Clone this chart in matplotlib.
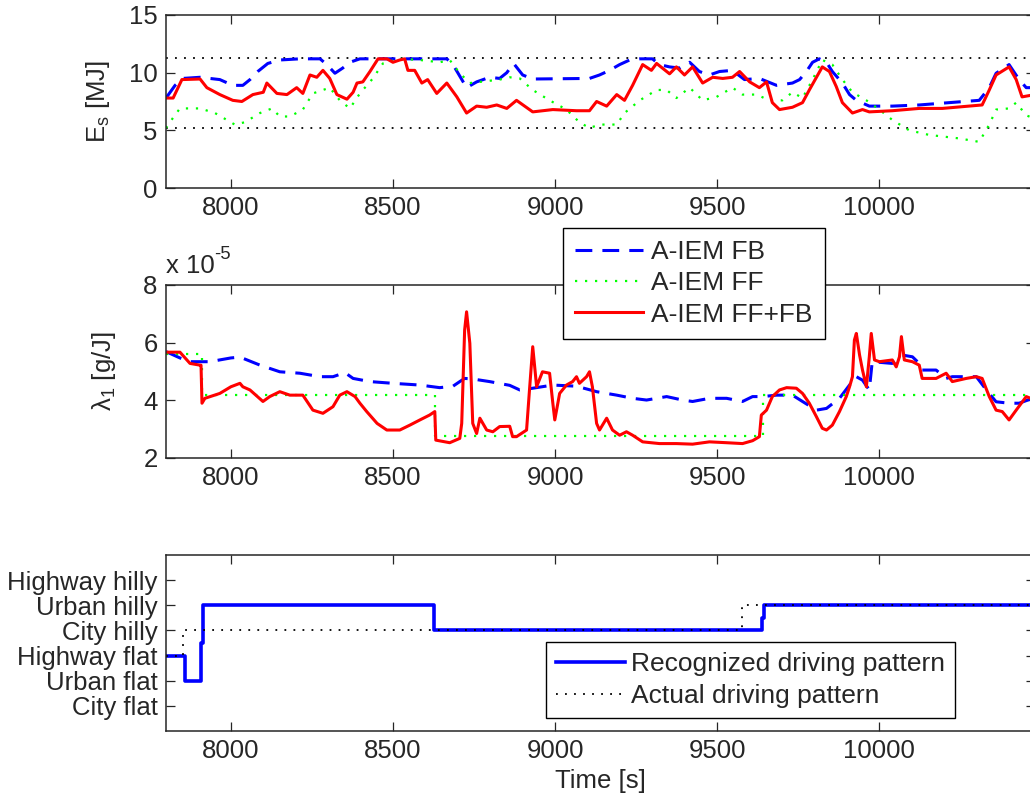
import numpy as np
import matplotlib
matplotlib.use("Agg")
import matplotlib.pyplot as plt

plt.rcParams["font.family"] = ["Liberation Sans", "DejaVu Sans"]
plt.rcParams["mathtext.fontset"] = "custom"
plt.rcParams["mathtext.rm"] = "Liberation Sans"
plt.rcParams["mathtext.it"] = "Liberation Sans"
plt.rcParams["mathtext.default"] = "regular"

# ---------------- data ----------------
# Battery energy E_s [MJ], feedback strategy
t_es_fb = [7800, 7828, 7852, 7905, 7935, 7966, 8006, 8037, 8059, 8083, 8114, 8151, 8213, 8275,
           8296, 8321, 8345, 8367, 8398, 8666, 8685, 8727, 8758, 8798, 8829, 8851, 8872, 8900,
           8931, 9106, 9137, 9168, 9199, 9230, 9261, 9300, 9322, 9353, 9384, 9415, 9445, 9476,
           9507, 9547, 9584, 9630, 9683, 9732, 9754, 9775, 9794, 9815, 9837, 9855, 9886, 9908,
           9929, 9969, 10040, 10123, 10215, 10308, 10339, 10360, 10400, 10431, 10453, 10480]
es_fb = [7.8, 8.9, 9.5, 9.6, 9.5, 9.4, 8.9, 8.9, 9.4, 10.1, 10.8, 11.1, 11.2, 11.2,
         10.7, 9.95, 10.4, 10.9, 11.2, 11.2, 10.7, 8.7, 9.2, 9.6, 9.5, 10.0, 10.8, 9.8,
         9.45, 9.5, 9.8, 10.2, 10.7, 11.1, 11.2, 11.2, 10.7, 10.5, 10.4, 10.9, 10.1, 9.8,
         10.1, 10.2, 9.4, 9.5, 8.9, 9.1, 9.4, 10.1, 10.9, 11.2, 10.9, 10.1, 9.1, 8.1,
         7.6, 7.1, 7.1, 7.2, 7.4, 7.6, 8.7, 9.95, 10.7, 9.4, 8.7, 8.7]

# Battery energy E_s [MJ], feedforward strategy
t_es_ff = [7800, 7822, 7843, 7905, 7951, 8012, 8043, 8090, 8127, 8151, 8182, 8222, 8253, 8305,
           8336, 8367, 8398, 8438, 8469, 8521, 8583, 8644, 8675, 8706, 8737, 8829, 8860, 8891,
           8931, 8983, 9035, 9075, 9106, 9137, 9190, 9214, 9261, 9313, 9344, 9374, 9415, 9455,
           9498, 9547, 9578, 9621, 9661, 9701, 9732, 9763, 9794, 9824, 9855, 9886, 9917, 9960,
           10000, 10040, 10092, 10154, 10246, 10308, 10339, 10360, 10400, 10422, 10453, 10480]
es_ff = [5.2, 6.1, 6.9, 6.9, 6.5, 5.5, 5.7, 6.5, 6.9, 6.2, 6.2, 6.8, 8.2, 8.7,
         7.6, 6.9, 8.2, 9.5, 10.8, 11.2, 11.1, 10.9, 11.1, 9.95, 9.1, 9.4, 9.6, 9.5,
         8.5, 7.6, 6.8, 5.7, 5.2, 5.5, 5.5, 6.5, 7.6, 8.5, 8.5, 7.8, 8.7, 7.6,
         7.9, 8.7, 8.1, 8.1, 7.6, 7.6, 8.3, 7.8, 9.4, 11.1, 10.7, 9.4, 8.3, 7.6,
         6.8, 5.9, 5.0, 4.6, 4.3, 4.0, 5.5, 6.8, 6.9, 7.4, 6.3, 6.0]

# Battery energy E_s [MJ], combined feedforward + feedback strategy
t_es_fffb = [7800, 7822, 7849, 7905, 7926, 7966, 8006, 8034, 8068, 8100, 8111, 8142, 8173, 8203,
             8222, 8244, 8265, 8284, 8305, 8327, 8358, 8377, 8389, 8407, 8429, 8454, 8481, 8500,
             8521, 8536, 8546, 8567, 8589, 8607, 8635, 8666, 8697, 8727, 8758, 8789, 8820, 8851,
             8881, 8931, 8993, 9066, 9106, 9128, 9159, 9190, 9214, 9239, 9270, 9297, 9313, 9353,
             9374, 9399, 9424, 9455, 9486, 9517, 9547, 9569, 9600, 9630, 9652, 9670, 9692, 9732,
             9763, 9784, 9806, 9824, 9846, 9867, 9886, 9917, 9948, 9969, 10040, 10123, 10194,
             10317, 10339, 10360, 10400, 10422, 10440, 10480]
es_fffb = [7.8, 7.8, 9.4, 9.45, 8.7, 8.1, 7.6, 7.5, 8.1, 8.3, 9.1, 8.2, 8.1, 8.7,
           8.2, 9.8, 9.6, 10.2, 9.5, 8.1, 7.7, 8.3, 9.1, 9.2, 10.1, 11.2, 11.2, 10.9,
           11.1, 11.2, 10.2, 10.2, 9.1, 9.4, 8.2, 9.1, 7.9, 6.5, 7.1, 7.0, 7.2, 6.9,
           7.6, 6.6, 6.8, 6.7, 6.7, 7.5, 7.1, 8.1, 7.6, 8.9, 10.7, 10.2, 10.8, 9.9,
           10.5, 9.8, 10.5, 9.1, 9.6, 9.5, 9.6, 10.1, 9.2, 8.7, 9.2, 7.4, 6.8, 7.0,
           7.4, 8.5, 9.6, 10.5, 10.1, 8.8, 7.4, 6.5, 6.8, 6.6, 6.7, 6.9, 6.9,
           7.2, 8.5, 9.8, 10.5, 9.4, 7.9, 8.1]

# State-of-energy bounds [MJ]
es_upper = 11.25
es_lower = 5.2

# Equivalence factor lambda_1 [1e-5 g/J], feedback strategy
t_lam_fb = [7800, 7843, 7874, 7935, 8000, 8028, 8090, 8151, 8213, 8275, 8315, 8352, 8377, 8429,
            8500, 8583, 8644, 8685, 8706, 8721, 8746, 8798, 8860, 8891, 8931, 8993, 9066, 9128,
            9190, 9239, 9282, 9344, 9393, 9424, 9476, 9529, 9578, 9609, 9640, 9683, 9732, 9763,
            9806, 9837, 9877, 9908, 9929, 9948, 9969, 9978, 10040, 10071, 10102, 10123, 10132,
            10175, 10206, 10225, 10299, 10330, 10360, 10400, 10431, 10480]
lam_fb = [5.69, 5.47, 5.34, 5.34, 5.47, 5.50, 5.22, 4.99, 4.94, 4.82, 4.82, 4.96, 4.76, 4.65,
          4.59, 4.53, 4.44, 4.49, 4.65, 4.76, 4.74, 4.65, 4.52, 4.36, 4.42, 4.53, 4.49, 4.30,
          4.18, 4.07, 4.01, 4.13, 4.01, 3.96, 4.07, 4.07, 3.96, 4.13, 4.13, 4.18, 4.18, 3.96,
          3.66, 3.72, 4.07, 4.53, 4.82, 4.70, 4.36, 5.34, 5.28, 5.57, 5.51, 5.28, 5.05,
          5.05, 4.76, 4.82, 4.82, 4.36, 3.95, 3.90, 3.90, 4.10]

# Equivalence factor lambda_1 [1e-5 g/J], feedforward strategy (piecewise constant)
t_lam_ff = [7800, 7910, 8630, 9640, 10480]
lam_ff = [5.6, 4.2, 2.76, 4.2, 4.2]

# Equivalence factor lambda_1 [1e-5 g/J], feedforward + feedback strategy
t_lam_fffb = [7800, 7843, 7874, 7905, 7908, 7911, 7920, 7966, 8000, 8028, 8037, 8059, 8099, 8120,
              8151, 8182, 8222, 8253, 8284, 8315, 8336, 8358, 8383, 8398, 8419, 8451, 8481, 8521,
              8552, 8583, 8613, 8629, 8632, 8675, 8706, 8712, 8721, 8727, 8737, 8746, 8758, 8768,
              8789, 8808, 8829, 8860, 8869, 8881, 8912, 8921, 8931, 8943, 8961, 8983, 8993, 8999,
              9014, 9035, 9054, 9066, 9075, 9097, 9106, 9115, 9128, 9137, 9159, 9177, 9199, 9220,
              9239, 9270, 9322, 9374, 9424, 9476, 9529, 9578, 9609, 9630, 9636, 9652, 9670, 9692,
              9714, 9744, 9763, 9784, 9806, 9824, 9837, 9855, 9877, 9898, 9908, 9917, 9923, 9929,
              9939, 9948, 9960, 9969, 9975, 9985, 10000, 10040, 10052, 10062, 10068, 10077, 10102,
              10123, 10132, 10175, 10206, 10225, 10268, 10299, 10317, 10339, 10360, 10379, 10400,
              10422, 10453, 10480]
lam_fffb = [5.67, 5.67, 5.28, 5.22, 5.22, 3.90, 4.07, 4.24, 4.47, 4.59, 4.47, 4.36, 3.96, 4.13,
            4.30, 4.18, 4.18, 3.66, 3.55, 3.78, 4.18, 4.30, 4.13, 3.90, 3.61, 3.20, 2.97, 2.97,
            3.14, 3.32, 3.49, 3.61, 2.62, 2.53, 2.68, 3.20, 6.44, 7.07, 5.98, 3.20, 2.85, 3.38,
            2.97, 2.91, 3.09, 3.10, 2.74, 2.74, 2.97, 4.36, 5.86, 4.47, 4.99, 4.94, 3.90, 3.32,
            4.24, 4.53, 4.65, 4.82, 4.59, 4.82, 4.99, 4.47, 3.20, 2.97, 3.38, 2.97, 2.79, 2.91,
            2.79, 2.56, 2.50, 2.50, 2.48, 2.56, 2.53, 2.50, 2.60, 2.74, 3.49, 3.66, 4.13, 4.36,
            4.44, 4.42, 4.24, 3.90, 3.43, 3.03, 2.97, 3.14, 3.61, 4.13, 4.47, 4.82, 6.09, 6.32,
            5.57, 5.05, 4.47, 5.51, 6.32, 5.40, 5.34, 5.40, 5.16, 5.51, 6.21, 5.40, 5.34,
            5.22, 4.76, 4.76, 4.94, 4.65, 4.76, 4.82, 4.76, 4.13, 3.66, 3.61, 3.32,
            3.66, 4.13, 4.01]

# Driving patterns
pattern_names = ["City flat", "Urban flat", "Highway flat", "City hilly", "Urban hilly", "Highway hilly"]
pattern_levels = [1, 2, 3, 4, 5, 6]
t_recognized = [7800, 7858, 7908, 7913, 8627, 9638, 9643, 10480]
recognized = [3, 2, 3.5, 5, 4, 4.5, 5, 5]
t_actual = [7800, 7852, 9576, 10480]
actual = [3, 4, 5, 5]

# ---------------- figure ----------------
FS = 18.5
LEG_FS = 19
INK = "#262626"
W, H = 1030, 808
fig = plt.figure(figsize=(W / 100, H / 100), dpi=100)


def px_box(left, top, right, bottom):
    return [left / W, 1 - bottom / H, (right - left) / W, (bottom - top) / H]


ax1 = fig.add_axes(px_box(166, 15, 1035, 188))
ax2 = fig.add_axes(px_box(166, 285, 1035, 458))
ax3 = fig.add_axes(px_box(166, 555, 1035, 731))

for ax in (ax1, ax2, ax3):
    ax.set_xlim(7800, 10480)
    ax.set_xticks([8000, 8500, 9000, 9500, 10000])
    ax.tick_params(direction="in", top=True, right=True, length=6.5, width=0.9,
                   labelsize=FS, pad=6, color=INK, labelcolor=INK)
    for s in ax.spines.values():
        s.set_linewidth(1.1)
        s.set_color(INK)

BLUE, GREEN, RED = "#0000ff", "#00ff00", "#ff0000"

# Panel 1: battery energy
ax1.axhline(es_upper, color="black", lw=1.3, dashes=(1, 4))
ax1.axhline(es_lower, color="black", lw=1.3, dashes=(1, 4))
l_fb, = ax1.plot(t_es_fb, es_fb, color=BLUE, lw=2.2, dashes=(5.5, 3.3), label="A-IEM FB")
l_ff, = ax1.plot(t_es_ff, es_ff, color=GREEN, lw=1.6, dashes=(1, 3.5), label="A-IEM FF")
l_fffb, = ax1.plot(t_es_fffb, es_fffb, color=RED, lw=2.2, label="A-IEM FF+FB")
ax1.set_ylim(0, 15)
ax1.set_yticks([0, 5, 10, 15])
ax1.set_ylabel("E$_s$ [MJ]", fontsize=FS, color=INK)
ax1.yaxis.set_label_coords(-0.062, 0.5)

# Panel 2: equivalence factor
ax2.plot(t_lam_fb, lam_fb, color=BLUE, lw=2.2, dashes=(5.5, 3.3))
ax2.plot(t_lam_ff, lam_ff, color=GREEN, lw=1.6, dashes=(1, 3.5), drawstyle="steps-post")
ax2.plot(t_lam_fffb, lam_fffb, color=RED, lw=2.2)
ax2.set_ylim(2, 8)
ax2.set_yticks([2, 4, 6, 8])
ax2.set_ylabel("λ$_1$ [g/J]", fontsize=FS, color=INK)
ax2.yaxis.set_label_coords(-0.055, 0.5)
ax2.text(0.0, 1.069, "x 10", transform=ax2.transAxes, fontsize=FS,
         color=INK, ha="left", va="baseline")
ax2.text(0.055, 1.15, "-5", transform=ax2.transAxes, fontsize=FS * 0.72,
         color=INK, ha="left", va="baseline")

# Panel 3: driving pattern
ax3.plot(t_recognized, recognized, color=BLUE, lw=2.6, drawstyle="steps-post",
         label="Recognized driving pattern")
ax3.plot(t_actual, actual, color="black", lw=1.3, dashes=(1, 4), drawstyle="steps-post",
         label="Actual driving pattern")
ax3.set_ylim(0, 7)
ax3.set_yticks(pattern_levels)
ax3.set_yticklabels(pattern_names)
ax3.set_xlabel("Time [s]", fontsize=FS, color=INK, labelpad=4)

# Legends
leg1 = fig.legend(handles=[l_fb, l_ff, l_fffb], loc="upper left",
                  bbox_to_anchor=(563 / W, 1 - 228 / H), borderaxespad=0,
                  fontsize=LEG_FS, handlelength=2.6, handletextpad=0.3, labelspacing=0.28,
                  borderpad=0.45, fancybox=False, framealpha=1, edgecolor="black")
leg1.get_frame().set_linewidth(1.0)
for txt in leg1.get_texts():
    txt.set_color(INK)

leg3 = ax3.legend(loc="upper left", bbox_to_anchor=(546 / W, 1 - 642 / H),
                  bbox_transform=fig.transFigure, borderaxespad=0,
                  fontsize=LEG_FS, handlelength=2.6, handletextpad=0.25, labelspacing=0.3,
                  borderpad=0.38, fancybox=False, framealpha=1, edgecolor="black")
leg3.get_frame().set_linewidth(1.0)
for txt in leg3.get_texts():
    txt.set_color(INK)

fig.savefig("out.png", dpi=100)
